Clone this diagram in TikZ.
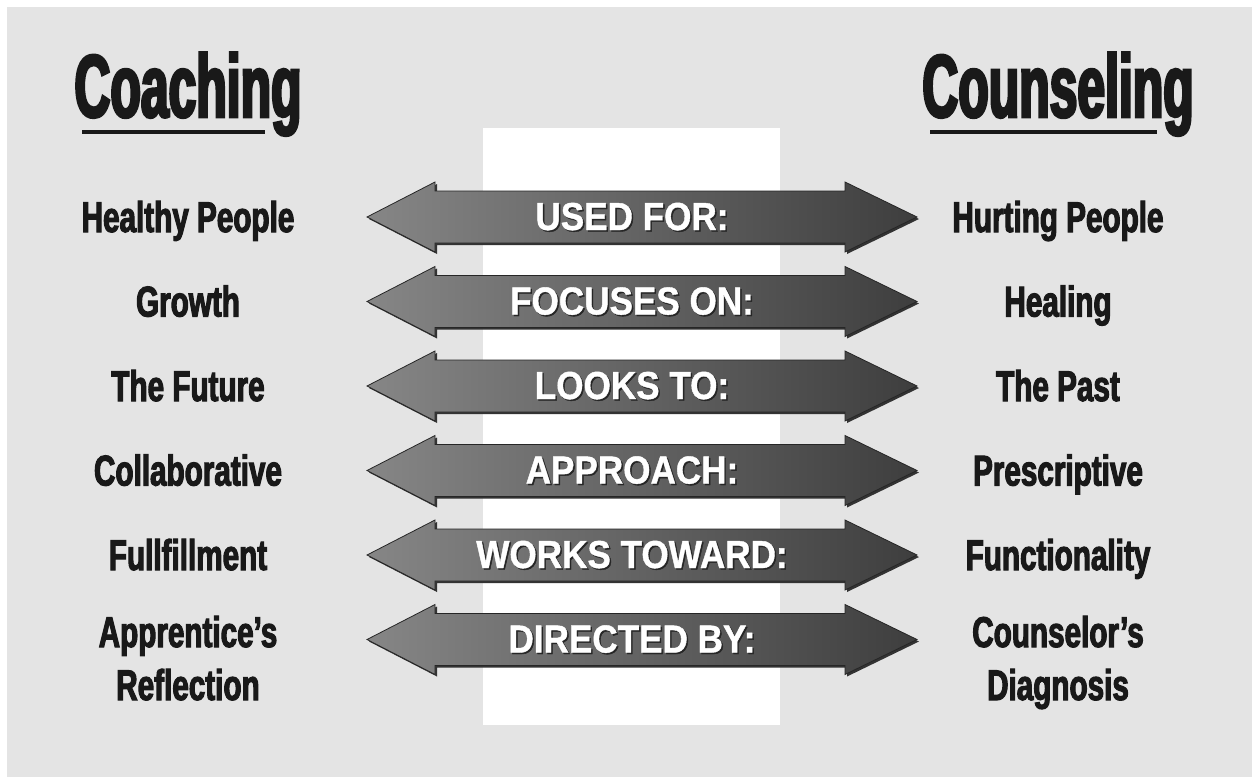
\documentclass[tikz,border=0pt]{standalone}
\usepackage{fontspec}
\setmainfont{Liberation Sans}
\newfontfamily\titlefont[FakeStretch=0.56,FakeBold=3]{Liberation Sans}
\newfontfamily\itemfont[FakeStretch=0.69,FakeBold=2.5]{Liberation Sans}
\newfontfamily\labelfont[FakeStretch=0.9,FakeBold=1]{Liberation Sans}
\definecolor{bggray}{HTML}{E4E4E4}
\definecolor{arrowlight}{HTML}{868686}
\definecolor{arrowdark}{HTML}{3E3E3E}
\tikzset{
  title/.style={inner sep=0pt, anchor=base, font=\titlefont\bfseries\fontsize{89}{89}\selectfont, text=black!90},
  item/.style={inner sep=0pt, anchor=base, align=center, font=\itemfont\bfseries\fontsize{43}{53}\selectfont, text=black!90},
  lab/.style={inner sep=0pt, anchor=base, font=\labelfont\bfseries\fontsize{39}{39}\selectfont, text=white},
  labshadow/.style={lab, text=black!85},
  arrowshape/.style={left color=arrowlight, right color=arrowdark, draw=black!85, line width=0.8pt, line join=miter},
  arrowshadow/.style={fill=black!80},
  uline/.style={line width=3.5pt, black!90}
}
\begin{document}
\begin{tikzpicture}[x=1pt,y=-1pt]
\useasboundingbox (0,0) rectangle (1252,777);
\fill[white] (0,0) rectangle (1252,777);
\fill[bggray] (7,7) rectangle (1252,777);
\fill[white] (483,128) rectangle (780,725);
% titles
\node[title] (coach) at (188,117) {Coaching};
\node[title] (couns) at (1058,117) {Counseling};
\coordinate (u1a) at (82,132); \coordinate (u1b) at (265,132);
\coordinate (u2a) at (930,132); \coordinate (u2b) at (1157,132);
\draw[uline] (u1a) -- (u1b);
\draw[uline] (u2a) -- (u2b);
% rows
\foreach \i/\c/\L/\M/\R in {
  1/217/{Healthy People}/{USED FOR:}/{Hurting People},
  2/301.5/{Growth}/{FOCUSES ON:}/{Healing},
  3/386/{The Future}/{LOOKS TO:}/{The Past},
  4/470.5/{Collaborative}/{APPROACH:}/{Prescriptive},
  5/555/{Fullfillment}/{WORKS TOWARD:}/{Functionality}}{
  \fill[arrowshadow] (369,\c+2) -- (437,\c-33) -- (437,\c-24) -- (847,\c-24) -- (847,\c-33) -- (919,\c+2) -- (847,\c+37) -- (847,\c+28) -- (437,\c+28) -- (437,\c+37) -- cycle;
  \path[arrowshape] (367,\c) -- (435,\c-35) -- (435,\c-26) -- (845,\c-26) -- (845,\c-35) -- (917,\c) -- (845,\c+35) -- (845,\c+26) -- (435,\c+26) -- (435,\c+35) -- cycle;
  \node[labshadow] (ms\i) at (633.5,\c+14.5) {\M};
  \node[lab] (m\i) at (632,\c+13) {\M};
  \node[item] (l\i) at (188,\c+15) {\L};
  \node[item] (r\i) at (1058,\c+15) {\R};
}
\def\c{639.5}
\fill[arrowshadow] (369,\c+2) -- (437,\c-33) -- (437,\c-24) -- (847,\c-24) -- (847,\c-33) -- (919,\c+2) -- (847,\c+37) -- (847,\c+28) -- (437,\c+28) -- (437,\c+37) -- cycle;
\path[arrowshape] (367,\c) -- (435,\c-35) -- (435,\c-26) -- (845,\c-26) -- (845,\c-35) -- (917,\c) -- (845,\c+35) -- (845,\c+26) -- (435,\c+26) -- (435,\c+35) -- cycle;
\node[labshadow] (ms6) at (633.5,\c+14.5) {DIRECTED BY:};
\node[lab] (m6) at (632,\c+13) {DIRECTED BY:};
\node[item] (l6) at (188,700) {Apprentice’s\\Reflection};
\node[item] (r6) at (1058,700) {Counselor’s\\Diagnosis};
\end{tikzpicture}
\end{document}
